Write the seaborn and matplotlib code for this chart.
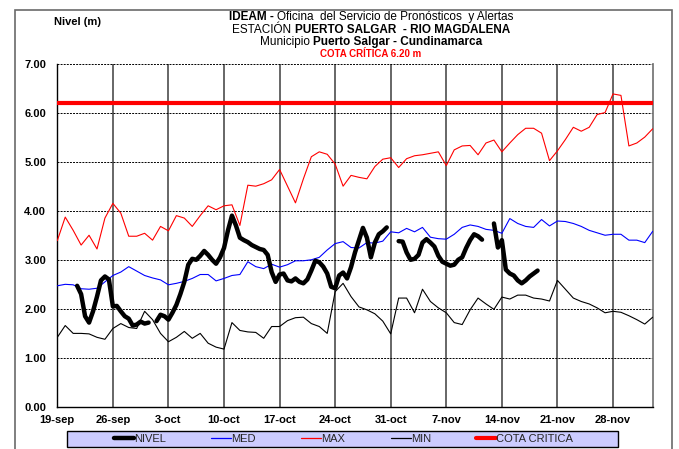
import numpy as np
import pandas as pd
import matplotlib
matplotlib.use("Agg")
import matplotlib.pyplot as plt
import seaborn as sns
from matplotlib.lines import Line2D
from matplotlib.patches import Rectangle
from matplotlib.transforms import IdentityTransform

# ---------------- data ----------------
START = "2011-09-19"
N_DAYS = 76

MAX_VALS = [3.39, 3.87, 3.60, 3.30, 3.50, 3.22, 3.85, 4.15, 3.95, 3.48,
            3.48, 3.54, 3.40, 3.68, 3.59, 3.90, 3.85, 3.68, 3.90, 4.10,
            4.02, 4.10, 4.12, 3.70, 4.52, 4.50, 4.55, 4.63, 4.84, 4.50,
            4.16, 4.65, 5.10, 5.20, 5.15, 4.95, 4.50, 4.72, 4.68, 4.65,
            4.90, 5.05, 5.08, 4.88, 5.06, 5.12, 5.14, 5.17, 5.20, 4.92,
            5.24, 5.32, 5.33, 5.14, 5.38, 5.44, 5.20, 5.38, 5.55, 5.68,
            5.68, 5.58, 5.02, 5.22, 5.45, 5.70, 5.62, 5.70, 5.96, 6.00,
            6.38, 6.35, 5.32, 5.38, 5.50, 5.67]

MED_VALS = [2.47, 2.50, 2.49, 2.41, 2.40, 2.42, 2.55, 2.68, 2.75, 2.86,
            2.77, 2.68, 2.63, 2.59, 2.49, 2.52, 2.56, 2.62, 2.70, 2.70,
            2.57, 2.62, 2.68, 2.70, 2.96, 2.86, 2.82, 2.91, 2.85, 2.90,
            2.98, 2.98, 3.00, 3.05, 3.20, 3.33, 3.37, 3.25, 3.24, 3.35,
            3.34, 3.38, 3.57, 3.55, 3.64, 3.57, 3.66, 3.46, 3.43, 3.42,
            3.52, 3.66, 3.71, 3.68, 3.62, 3.60, 3.54, 3.84, 3.74, 3.68,
            3.66, 3.82, 3.69, 3.79, 3.78, 3.74, 3.68, 3.60, 3.55, 3.50,
            3.52, 3.52, 3.40, 3.40, 3.35, 3.58]

MIN_VALS = [1.42, 1.66, 1.50, 1.50, 1.49, 1.42, 1.38, 1.60, 1.70, 1.62,
            1.60, 1.95, 1.78, 1.50, 1.33, 1.42, 1.54, 1.40, 1.50, 1.30,
            1.22, 1.18, 1.72, 1.56, 1.53, 1.52, 1.40, 1.64, 1.64, 1.76,
            1.82, 1.83, 1.70, 1.64, 1.50, 2.35, 2.52, 2.25, 2.04, 1.98,
            1.90, 1.75, 1.49, 2.22, 2.22, 1.92, 2.40, 2.15, 2.02, 1.92,
            1.72, 1.68, 1.98, 2.22, 2.10, 1.99, 2.24, 2.20, 2.28, 2.28,
            2.22, 2.20, 2.16, 2.58, 2.40, 2.22, 2.15, 2.10, 2.02, 1.92,
            1.95, 1.93, 1.86, 1.78, 1.69, 1.83]

# NIVEL: observed level every 12 hours starting 21-sep 12:00 (None = no data)
NIVEL_START_OFFSET_DAYS = 2.5
NIVEL_VALS = [2.47, 2.30, 1.85, 1.72, 1.95, 2.25, 2.58, 2.66, 2.60, 2.05,
              2.06, 1.95, 1.85, 1.80, 1.66, 1.68, 1.74, 1.70, 1.72, None,
              1.75, 1.88, 1.85, 1.78, 1.92, 2.08, 2.30, 2.55, 2.90, 3.02,
              3.00, 3.08, 3.18, 3.10, 3.00, 2.92, 3.05, 3.24, 3.60, 3.90,
              3.70, 3.45, 3.40, 3.36, 3.30, 3.26, 3.22, 3.20, 3.10, 2.75,
              2.55, 2.70, 2.72, 2.58, 2.56, 2.62, 2.55, 2.52, 2.60, 2.78,
              2.98, 2.95, 2.86, 2.72, 2.45, 2.42, 2.68, 2.74, 2.62, 2.85,
              3.15, 3.40, 3.65, 3.45, 3.05, 3.35, 3.52, 3.58, 3.66, None,
              None, 3.38, 3.37, 3.15, 3.00, 3.02, 3.10, 3.35, 3.42, 3.35,
              3.27, 3.08, 2.96, 2.92, 2.88, 2.90, 3.00, 3.05, 3.24, 3.40,
              3.52, 3.48, 3.41, None, None, 3.74, 3.25, 3.40, 2.80, 2.72,
              2.68, 2.58, 2.52, 2.58, 2.66, 2.72, 2.78]

COTA_CRITICA = 6.20

TICK_LABELS = ["19-sep", "26-sep", "3-oct", "10-oct", "17-oct", "24-oct",
               "31-oct", "7-nov", "14-nov", "21-nov", "28-nov"]
Y_TICKS = [0, 1, 2, 3, 4, 5, 6, 7]

LEGEND_LABELS = ["NIVEL", "MED", "MAX", "MIN", "COTA CRITICA"]

# ---------------- frames ----------------
t0 = pd.Timestamp(START)
dates = pd.date_range(t0, periods=N_DAYS, freq="D")
df = pd.DataFrame({"fecha": dates, "MED": MED_VALS, "MAX": MAX_VALS, "MIN": MIN_VALS})

rows = []
seg = 0
for i, v in enumerate(NIVEL_VALS):
    if v is None:
        seg += 1
        continue
    rows.append({"fecha": t0 + pd.Timedelta(days=NIVEL_START_OFFSET_DAYS) + pd.Timedelta(hours=12 * i),
                 "nivel": v, "seg": seg})
df_nivel = pd.DataFrame(rows)

# ---------------- style ----------------
sns.set_theme(style="white")
plt.rcParams["font.family"] = ["Liberation Sans", "DejaVu Sans"]

W, H = 679, 449
fig = plt.figure(figsize=(W / 100, H / 100), dpi=100)
fig.patch.set_facecolor("white")

L, R, T, B = 57.3, 652.7, 63.5, 407.0
ax = fig.add_axes([L / W, 1 - B / H, (R - L) / W, (B - T) / H])
ax.set_facecolor("white")

sns.lineplot(data=df, x="fecha", y="MIN", ax=ax, color="black", lw=0.8, zorder=3)
sns.lineplot(data=df, x="fecha", y="MAX", ax=ax, color="#FF0000", lw=0.8, zorder=3)
sns.lineplot(data=df, x="fecha", y="MED", ax=ax, color="#0000FF", lw=0.8, zorder=3)
sns.lineplot(data=df_nivel, x="fecha", y="nivel", units="seg", estimator=None,
             ax=ax, color="black", lw=3.2, zorder=4)
ax.axhline(COTA_CRITICA, color="#FF0000", lw=3.0, zorder=5)

ax.set_xlim(dates[0], dates[-1])
ax.set_ylim(Y_TICKS[0], Y_TICKS[-1])
ax.set_xlabel("")
ax.set_ylabel("")

ax.set_xticks([dates[7 * k] for k in range(len(TICK_LABELS))])
ax.set_xticklabels(TICK_LABELS)
ax.set_yticks(Y_TICKS)
ax.set_yticklabels([f"{v:.2f}" for v in Y_TICKS])
ax.tick_params(axis="x", which="major", direction="out", length=3, width=1,
               color="black", labelsize=8, pad=3, labelcolor="black")
ax.tick_params(axis="y", which="major", direction="out", length=4.5, width=1,
               color="black", labelsize=8, pad=3.5, labelcolor="black")
for lbl in ax.get_xticklabels() + ax.get_yticklabels():
    lbl.set_fontweight("bold")

ax.yaxis.grid(True, linestyle=(0, (2, 1.2)), color="black", lw=0.7)
ax.xaxis.grid(True, linestyle="-", color="#5a5a5a", lw=1.3)
ax.set_axisbelow(True)

for s in ["left", "bottom"]:
    ax.spines[s].set_color("black")
    ax.spines[s].set_linewidth(1.0)
ax.spines["top"].set_visible(False)
ax.spines["right"].set_color("#7a7a7a")
ax.spines["right"].set_linewidth(1.3)

# ---------------- outer border ----------------
fig.patches.append(Rectangle((14.5 / W, -0.05), (671.5 - 14.5) / W, (H - 9.5) / H + 0.05,
                             transform=fig.transFigure, fill=False,
                             edgecolor="#6a6a6a", lw=1.2, zorder=0))

# ---------------- legend ----------------
LX0, LX1, LY0, LY1 = 66.7, 618.3, 431.0, 447.0
fig.patches.append(Rectangle((LX0 / W, (H - LY1) / H), (LX1 - LX0) / W, (LY1 - LY0) / H,
                             transform=fig.transFigure, facecolor="#CCCCFF",
                             edgecolor="black", lw=1.0, zorder=1))
handles = [Line2D([], [], color="black", lw=3.2),
           Line2D([], [], color="#0000FF", lw=0.9),
           Line2D([], [], color="#FF0000", lw=0.9),
           Line2D([], [], color="black", lw=0.9),
           Line2D([], [], color="#FF0000", lw=3.0)]
leg = fig.legend(handles, LEGEND_LABELS, loc="center", ncol=5,
                 bbox_to_anchor=((LX0 + LX1) / 2 / W + 1 / W, (H - (LY0 + LY1) / 2) / H),
                 frameon=False, fontsize=8, handlelength=1.8, handletextpad=0.0,
                 columnspacing=4.1, borderpad=0, borderaxespad=0)
leg.set_zorder(2)

# ---------------- titles ----------------
renderer = fig.canvas.get_renderer()


def draw_line(segments, xc, y_img, fs):
    arts = []
    for txt, bold, color in segments:
        a = fig.text(0, 0, txt, fontsize=fs, fontweight="bold" if bold else "normal",
                     color=color, transform=IdentityTransform(), ha="left", va="center")
        arts.append(a)
    widths = [a.get_window_extent(renderer).width for a in arts]
    gap = fs * 100 / 72 * 0.30
    total = sum(widths) + gap * (len(arts) - 1)
    x = xc - total / 2
    for a, w in zip(arts, widths):
        a.set_position((x, H - y_img))
        x += w + gap


XC = 371
draw_line([("IDEAM -", True, "black"),
           ("Oficina  del Servicio de Pronósticos  y Alertas", False, "black")], XC, 17.3, 8.5)
draw_line([("ESTACIÓN", False, "black"),
           ("PUERTO SALGAR  - RIO MAGDALENA", True, "black")], XC, 30.0, 8.5)
draw_line([("Municipio", False, "black"),
           ("Puerto Salgar - Cundinamarca", True, "black")], XC, 42.3, 8.5)
draw_line([("COTA CRÍTICA 6.20 m", True, "#FF0000")], XC, 54.3, 7)

fig.text(54, H - 22, "Nivel (m)", fontsize=8, fontweight="bold", color="black",
         transform=IdentityTransform(), ha="left", va="center")

fig.savefig("out.png", dpi=100)
